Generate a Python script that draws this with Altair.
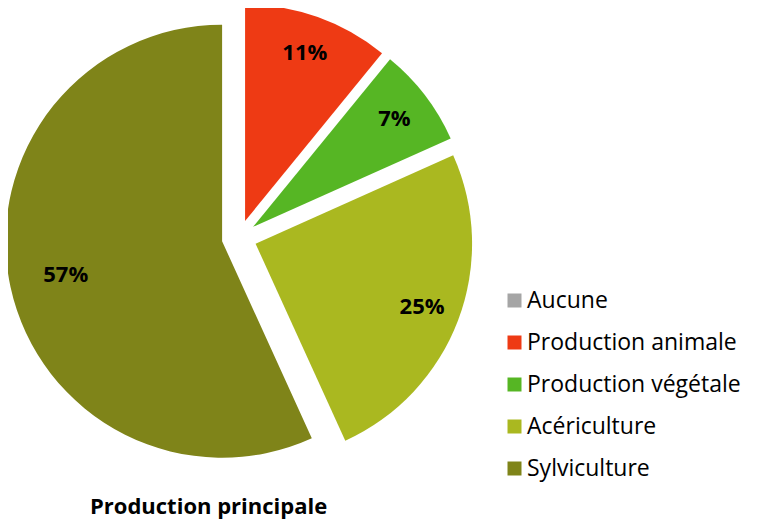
import math
import altair as alt
import pandas as pd

categories = ["Aucune", "Production animale", "Production végétale", "Acériculture", "Sylviculture"]
shares = [0.0, 10.9, 7.4, 24.9, 56.8]
colors = ["#A5A5A5", "#EE3A14", "#56B624", "#AAB820", "#7F8419"]
title_text = "Production principale"

df = pd.DataFrame({"categorie": categories, "part": shares, "ordre": list(range(len(categories)))})

CX, CY = 231.2, 229.5      # pie centre (px)
R = 216.5                  # pie radius (px)
EXPLODE = 17.5             # explosion distance (px)
LABEL_R = 178              # label distance from slice vertex (px)
LABEL_R_BIG = 160          # label distance for a slice wider than half the pie

base = (
    alt.Chart(df)
    .transform_joinaggregate(total="sum(part)")
    .transform_window(cumul="sum(part)", sort=[alt.SortField("ordre")], frame=[None, 0])
    .transform_calculate(f0="(datum.cumul - datum.part) / datum.total")
    .transform_calculate(f1="datum.cumul / datum.total")
    .transform_calculate(frac="datum.part / datum.total")
    .transform_calculate(mid="PI * (datum.f0 + datum.f1)")
    .transform_calculate(cx=f"{CX} + {EXPLODE} * sin(datum.mid)")
    .transform_calculate(cy=f"{CY} - {EXPLODE} * cos(datum.mid)")
    .transform_calculate(lr=f"datum.frac > 0.5 ? {LABEL_R_BIG} : {LABEL_R}")
    .transform_calculate(lx="datum.cx + datum.lr * sin(datum.mid)")
    .transform_calculate(ly="datum.cy - datum.lr * cos(datum.mid)")
)

theta_scale = alt.Scale(domain=[0, 1], range=[0, 2 * math.pi])

arcs = base.mark_arc(radius=R, stroke=None).encode(
    x=alt.X("cx:Q", scale=None, axis=None),
    y=alt.Y("cy:Q", scale=None, axis=None),
    theta=alt.Theta("f0:Q", scale=theta_scale),
    theta2="f1:Q",
    color=alt.Color(
        "categorie:N",
        scale=alt.Scale(domain=categories, range=colors),
        legend=alt.Legend(
            title=None,
            orient="none",
            legendX=495,
            legendY=281,
            symbolType="square",
            symbolSize=196,
            symbolStrokeWidth=0,
            labelFont="Open Sans",
            labelFontSize=23,
            labelColor="black",
            labelOffset=1,
            labelLimit=400,
            rowPadding=18,
            padding=0,
        ),
    ),
)

labels = base.transform_filter("datum.part > 0").mark_text(
    font="Open Sans", fontWeight="bold", fontSize=22, color="black", align="center", baseline="middle"
).encode(
    x=alt.X("lx:Q", scale=None, axis=None),
    y=alt.Y("ly:Q", scale=None, axis=None),
    text=alt.Text("frac:Q", format=".0%"),
)

chart = (
    alt.layer(arcs, labels)
    .properties(
        width=743,
        height=480,
        autosize=alt.AutoSizeParams(type="none"),
        padding={"left": 0, "top": 0, "right": 0, "bottom": 32},
        background="white",
        title=alt.TitleParams(
            text=title_text,
            orient="bottom",
            anchor="start",
            frame="group",
            dx=82,
            offset=26,
            baseline="alphabetic",
            font="Open Sans",
            fontSize=22,
            fontWeight="bold",
            color="black",
        ),
    )
    .configure_view(stroke=None)
)

chart.save("out.html", embed_options={"renderer": "svg", "actions": False})
